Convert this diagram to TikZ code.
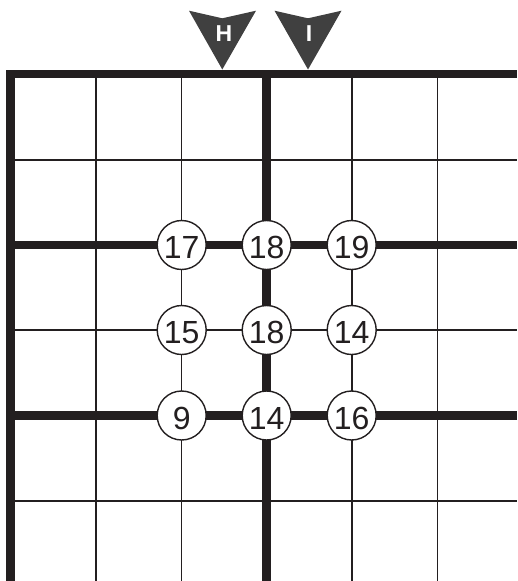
\documentclass[tikz,border=0pt]{standalone}
\usepackage{fontspec}
\setmainfont{Liberation Sans}
\definecolor{ink}{HTML}{231F20}
\definecolor{marker}{HTML}{404040}
\tikzset{
  thin grid/.style={draw=ink, line width=1.7pt},
  thick grid/.style={draw=ink, line width=8.5pt},
  clue/.style={circle, draw=ink, line width=1.4pt, fill=white, minimum size=49pt, inner sep=0pt, font=\fontsize{32}{32}\selectfont, text=ink, text height=27pt, text depth=0pt},
  pointer/.style={fill=marker, draw=none},
  pointerlabel/.style={text=white, font=\fontsize{23}{23}\selectfont\bfseries, inner sep=0pt}
}
\begin{document}
\begin{tikzpicture}[x=1pt, y=-1pt]
\useasboundingbox (0,0) rectangle (517,581);
% thin lines
\foreach \x in {96,181.5,352,437.5} \draw[thin grid] (\x,74) -- (\x,581);
\foreach \y in {160,330,501} \draw[thin grid] (10,\y) -- (517,\y);
% thick lines
\draw[thick grid] (10.5,581) -- (10.5,74.2) -- (517,74.2);
\draw[thick grid] (266.7,74) -- (266.7,581);
\foreach \y in {245,415.5} \draw[thick grid] (10,\y) -- (517,\y);
% pointers
\fill[pointer] (189,10.7) -- (222.3,18.3) -- (256,10.7) -- (222.3,69.5) -- cycle;
\fill[pointer] (274.5,10.7) -- (308,18.3) -- (341.5,10.7) -- (308,69.5) -- cycle;
\node[pointerlabel] (h) at (224,34) {H};
\node[pointerlabel] (i) at (309,34) {I};
% clues
\node[clue] (c11) at (181.7,245) {17};
\node[clue] (c12) at (266.7,245) {18};
\node[clue] (c13) at (351.7,245) {19};
\node[clue] (c21) at (181.7,330) {15};
\node[clue] (c22) at (266.7,330) {18};
\node[clue] (c23) at (351.7,330) {14};
\node[clue] (c31) at (181.7,415.5) {9};
\node[clue] (c32) at (266.7,415.5) {14};
\node[clue] (c33) at (351.7,415.5) {16};
\end{tikzpicture}
\end{document}
